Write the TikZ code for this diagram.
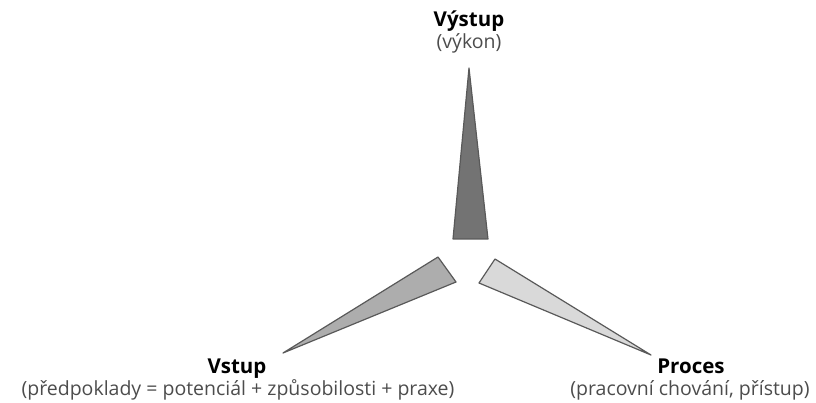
\documentclass[tikz,border=0pt]{standalone}
\usepackage{fontspec}
\setmainfont{Open Sans}
\usetikzlibrary{shapes.geometric}
\definecolor{subgray}{gray}{0.3}
\tikzstyle{title} = [font=\fontsize{20.5}{20.5}\selectfont\bfseries, inner sep=0pt, anchor=base]
\tikzstyle{sub} = [font=\fontsize{19.5}{19.5}\selectfont, text=subgray, inner sep=0pt, anchor=base]
\tikzstyle{wedge} = [draw=black!65, line width=1.2pt, line join=round]

\begin{document}
\begin{tikzpicture}[x=1pt, y=-1pt]
\useasboundingbox (0,0) rectangle (816,403);

%% NODES

\node (out) [title] at (469,27) {Výstup};
\node (out_sub) [sub] at (469,49) {(výkon)};
\node (in) [title] at (237,373) {Vstup};
\node (in_sub) [sub] at (238,395) {(předpoklady = potenciál + způsobilosti + praxe)};
\node (proc) [title] at (691,373) {Proces};
\node (proc_sub) [sub] at (690,395) {(pracovní chování, přístup)};

%% WEDGES

\coordinate (out_tip) at (469,68);
\coordinate (in_tip) at (283,353);
\coordinate (proc_tip) at (651,355);

\draw [wedge, fill=black!55] (out_tip) -- (488,239) -- (453,239) -- cycle;
\draw [wedge, fill=black!32] (in_tip) -- (438,257) -- (456,282) -- cycle;
\draw [wedge, fill=black!15] (proc_tip) -- (495,259) -- (479,283) -- cycle;

\end{tikzpicture}
\end{document}
